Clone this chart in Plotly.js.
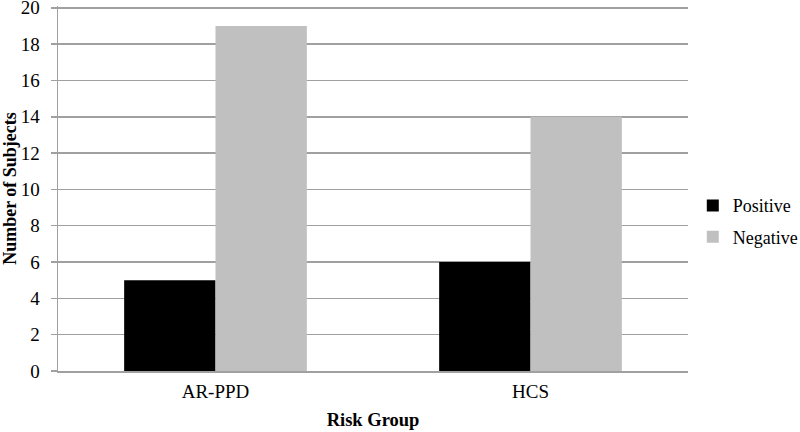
<!DOCTYPE html>
<html>
<head>
<meta charset="utf-8">
<script src="https://cdn.plot.ly/plotly-3.0.1.min.js"></script>
<style>html,body{margin:0;padding:0;background:#fff;}#chart{width:800px;height:432px;}</style>
</head>
<body>
<div id="chart"></div>
<script>
const categories = ["AR-PPD", "HCS"];
const positive = [5, 6];
const negative = [19, 14];
const yTicks = [0, 2, 4, 6, 8, 10, 12, 14, 16, 18, 20];

const FAM = "Liberation Serif";
function f(size) { return {family: FAM, size: size, color: "#000"}; }

const data = [
  {type: "bar", name: "Positive", legendgroup: "p", x: categories, y: positive, marker: {color: "#000000"}},
  {type: "bar", name: "Negative", legendgroup: "n", x: categories, y: negative, marker: {color: "#c0c0c0"}}
];

const layout = {
  width: 800, height: 432,
  margin: {l: 58, r: 112, t: 6, b: 61, autoexpand: false},
  paper_bgcolor: "#fff", plot_bgcolor: "#fff",
  barmode: "group", bargap: 0.42, bargroupgap: 0,
  font: f(18),
  xaxis: {
    type: "category",
    showline: true, linecolor: "#a0a0a0", linewidth: 1.5,
    ticks: "", showgrid: false,
    ticklabelstandoff: 3,
    tickfont: f(19),
    title: {text: "<b>Risk Group</b>", font: f(18.5), standoff: 12}
  },
  yaxis: {
    range: [0, 20.1], tickvals: yTicks, ticktext: yTicks.map(String),
    showline: true, linecolor: "#a0a0a0", linewidth: 1.5,
    ticks: "outside", ticklen: 6, tickcolor: "#a0a0a0", tickwidth: 1.5,
    ticklabelstandoff: 7, ticklabeloverflow: "allow",
    showgrid: true, gridcolor: "#a0a0a0", gridwidth: 1.5,
    zeroline: false,
    tickfont: f(19),
    title: {text: "<b>Number of Subjects</b>", font: f(18), standoff: 4}
  },
  showlegend: true,
  legend: {xref: "container", yref: "container", x: 0.866, xanchor: "left", y: 0.488, yanchor: "middle",
           font: f(18), itemwidth: 30, traceorder: "grouped", tracegroupgap: 5,
           bgcolor: "rgba(0,0,0,0)"}
};

Plotly.newPlot("chart", data, layout, {displayModeBar: false, staticPlot: true});
</script>
</body>
</html>
